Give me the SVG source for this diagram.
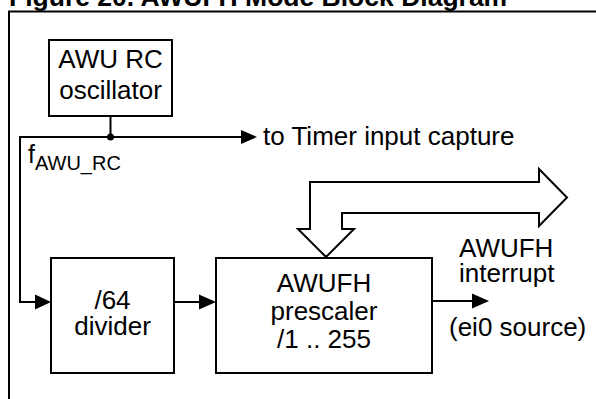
<svg xmlns="http://www.w3.org/2000/svg" width="596" height="399" viewBox="0 0 596 399">
<style>
.box{fill:#fff;stroke:#000;stroke-width:2}
.ln{fill:none;stroke:#000;stroke-width:2}
.ah{fill:#000;stroke:none}
text{font-family:"Liberation Sans",Arial,sans-serif;fill:#000}
.t{font-size:26px}
.c{text-anchor:middle}
</style>
<rect width="596" height="399" fill="#fff"/>
<text x="9" y="6" style="font-size:26.5px;font-weight:bold">Figure 20. AWUFH Mode Block Diagram</text>
<rect x="9" y="11.5" width="620" height="420" class="ln"/>
<g id="connectors">
<line x1="110.5" y1="116" x2="110.5" y2="137" class="ln"/>
<polyline points="242,137 20,137 20,302 36,302" class="ln"/>
<circle cx="110.5" cy="137" r="3.5" class="ah"/>
<polygon points="241,130 257,137 241,144" class="ah"/>
<polygon points="35,294.5 51,302 35,309.5" class="ah"/>
<line x1="174" y1="302" x2="200" y2="302" class="ln"/>
<polygon points="199,294.5 216,302 199,309.5" class="ah"/>
<line x1="432" y1="301" x2="474" y2="301" class="ln"/>
<polygon points="472,293.5 489,301 472,308.5" class="ah"/>
<polygon points="310,182 539,182 539,169 567,197.5 539,226 539,213 342,213 342,229 354,229 326,257 298,229 310,229" class="box"/>
</g>
<g id="osc">
<rect x="49" y="40" width="123" height="76" class="box"/>
<text x="110.5" y="68" class="t c">AWU RC</text>
<text x="110.5" y="99" class="t c">oscillator</text>
</g>
<g id="divider">
<rect x="51" y="258" width="123" height="115" class="box"/>
<text x="112.5" y="309" class="t c">/64</text>
<text x="112.5" y="335" class="t c">divider</text>
</g>
<g id="prescaler">
<rect x="216" y="258" width="216" height="115" class="box"/>
<text x="324" y="292" class="t c">AWUFH</text>
<text x="324" y="320" class="t c">prescaler</text>
<text x="324" y="348" class="t c">/1 .. 255</text>
</g>
<g id="labels">
<text x="263" y="145" class="t">to Timer input capture</text>
<text x="28" y="163" style="font-size:25px">f<tspan dy="7" style="font-size:20px">AWU_RC</tspan></text>
<text x="459" y="257" class="t">AWUFH</text>
<text x="459" y="282" class="t">interrupt</text>
<text x="449" y="336" class="t">(ei0 source)</text>
</g>
</svg>
